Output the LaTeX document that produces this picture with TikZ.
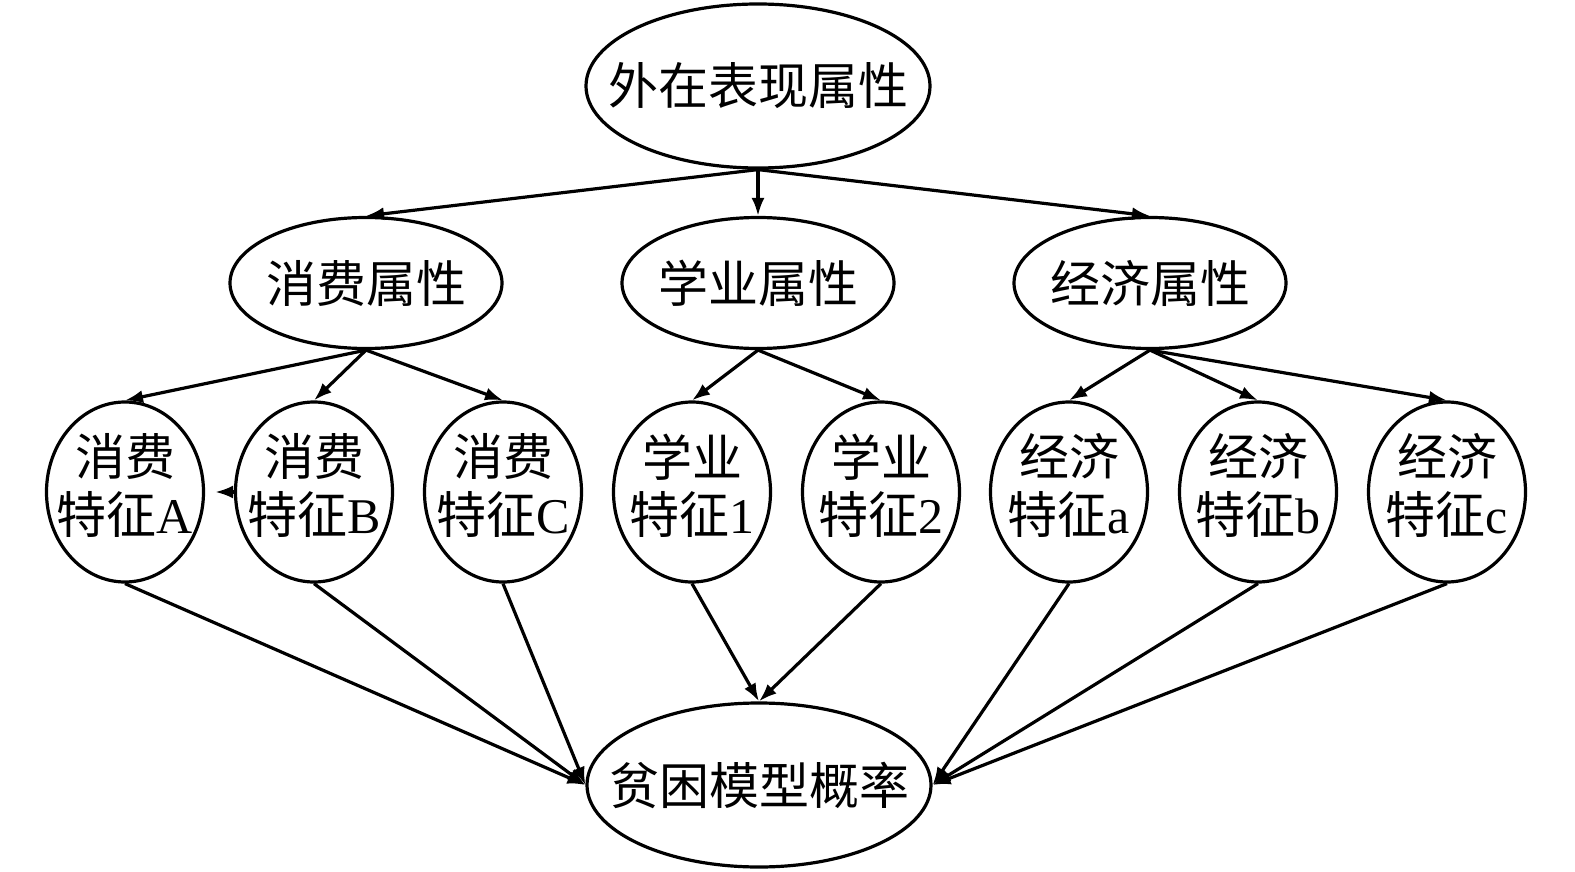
\documentclass[tikz,border=0pt]{standalone}
\usepackage{fontspec}
\setmainfont{Liberation Serif}
\newfontfamily\cjk{Noto Sans CJK SC}
\usetikzlibrary{shapes.geometric,arrows.meta}
\newcommand{\zt}[1]{\makebox[0pt]{#1}}
\newcommand{\zl}[2]{\makebox[0pt]{\begin{tabular}{@{}c@{}}#1\\[-2pt]#2\end{tabular}}}
\begin{document}
\begin{tikzpicture}[x=1pt,y=-1pt,
  base/.style={draw,ellipse,line width=3.2pt,inner sep=0pt,font=\fontsize{50}{57}\selectfont\cjk},
  big/.style={base,minimum width=344pt,minimum height=164pt},
  mid/.style={base,minimum width=272pt,minimum height=131pt},
  feat/.style={base,minimum width=157pt,minimum height=180pt},
  arr/.style={line width=3.2pt,-{Latex[length=18pt,width=13pt]}}]
\useasboundingbox (0,0) rectangle (1575,872);
\node[big] (top) at (758,86) {\zt{外在表现属性}};
\node[mid] (m1) at (366,283) {\zt{消费属性}};
\node[mid] (m2) at (758,283) {\zt{学业属性}};
\node[mid] (m3) at (1150,283) {\zt{经济属性}};
\node[feat] (fA) at (125,492) {\zl{消费}{特征{\rmfamily A}}};
\node[feat] (fB) at (314,492) {\zl{消费}{特征{\rmfamily B}}};
\node[feat] (fC) at (503,492) {\zl{消费}{特征{\rmfamily C}}};
\node[feat] (f1) at (692,492) {\zl{学业}{特征{\rmfamily 1}}};
\node[feat] (f2) at (881,492) {\zl{学业}{特征{\rmfamily 2}}};
\node[feat] (fa) at (1069,492) {\zl{经济}{特征{\rmfamily a}}};
\node[feat] (fb) at (1258,492) {\zl{经济}{特征{\rmfamily b}}};
\node[feat] (fc) at (1447,492) {\zl{经济}{特征{\rmfamily c}}};
\node[big] (bot) at (759,785) {\zt{贫困模型概率}};
\draw[arr] (top.south) -- (m1.north);
\draw[arr] (top.south) -- (m2.north);
\draw[arr] (top.south) -- (m3.north);
\draw[arr] (m1.south) -- (fA.north);
\draw[arr] (m1.south) -- (fB.north);
\draw[arr] (m1.south) -- (fC.north);
\draw[arr] (m2.south) -- (f1.north);
\draw[arr] (m2.south) -- (f2.north);
\draw[arr] (m3.south) -- (fa.north);
\draw[arr] (m3.south) -- (fb.north);
\draw[arr] (m3.south) -- (fc.north);
\draw[arr,shorten >=10pt] (fB.west) -- (fA.east);
\draw[arr] (fA.south) -- (bot.west);
\draw[arr] (fB.south) -- (bot.west);
\draw[arr] (fC.south) -- (bot.west);
\draw[arr] (f1.south) -- (bot.north);
\draw[arr] (f2.south) -- (bot.north);
\draw[arr] (fa.south) -- (bot.east);
\draw[arr] (fb.south) -- (bot.east);
\draw[arr] (fc.south) -- (bot.east);
\end{tikzpicture}
\end{document}
